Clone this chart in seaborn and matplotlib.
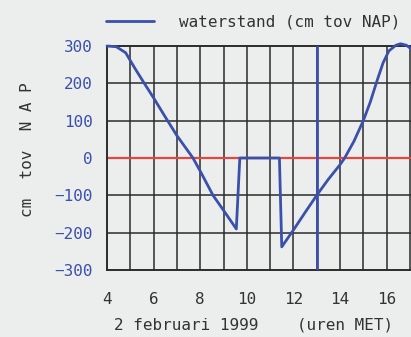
import matplotlib
matplotlib.use("Agg")
import matplotlib.pyplot as plt
import pandas as pd
import seaborn as sns

# water level (cm relative to NAP), 2 Feb 1999, hours MET
hours = [4.0, 4.4, 4.8, 5.2, 5.6, 6.0, 6.5, 7.0, 7.69, 8.0, 8.55, 9.0, 9.55, 9.7,
         11.4, 11.5, 12.0, 12.5, 13.0, 13.5, 14.0, 14.2, 14.6, 15.0, 15.3, 15.6,
         15.85, 16.1, 16.4, 16.6, 16.85, 17.1]
level = [300, 298, 282, 240, 200, 161, 110, 60, 0, -35, -100, -140, -190, 0,
         0, -238, -193, -146, -100, -57, -18, 0, 45, 100, 150, 209,
         255, 287, 302, 306, 302, 290]
now_hour = 13
y_ticks = [-300, -200, -100, 0, 100, 200, 300]
x_ticks = [4, 6, 8, 10, 12, 14, 16]

df = pd.DataFrame({"uur": hours, "waterstand": level})

bg = "#eceeee"
blue = "#3b50aa"
sns.set_style("white")
plt.rcParams["font.family"] = ["DejaVu Sans Mono", "DejaVu Sans"]

fig = plt.figure(figsize=(4.11, 3.37), dpi=100, facecolor=bg)
ax = fig.add_axes([107 / 411, 1 - 270 / 337, 14 * 23.3 / 411, 224 / 337])
ax.set_facecolor(bg)

ax.set_xlim(4, 18)
ax.set_ylim(-300, 300)
for h in range(5, 18):
    ax.axvline(h, color="#2b2b2b", lw=1.1, zorder=1)
for v in range(-200, 300, 100):
    ax.axhline(v, color="#2b2b2b", lw=1.1, zorder=1)
ax.axhline(0, color="#e8453c", lw=1.6, zorder=2)
ax.axvline(now_hour, color=blue, lw=2, zorder=3)

sns.lineplot(data=df, x="uur", y="waterstand", estimator=None, sort=False,
             color=blue, lw=2, ax=ax, zorder=4, label="waterstand (cm tov NAP)")
ax.lines[-1].set_clip_on(False)

for side in ["left", "bottom", "top"]:
    ax.spines[side].set_color("#2b2b2b")
    ax.spines[side].set_linewidth(1.4)
ax.spines["right"].set_visible(False)

ax.set_yticks(y_ticks)
ax.set_xticks(x_ticks)
ax.tick_params(length=0)
ax.tick_params(axis="y", labelcolor=blue, labelsize=11.5, pad=10)
ax.tick_params(axis="x", labelcolor="#333333", labelsize=11.5, pad=16)
ax.set_xlabel("")
ax.set_ylabel("")

fig.text(254 / 411, 1 - 325 / 337, "2 februari 1999    (uren MET)",
         ha="center", va="center", fontsize=11.5, color="#333333")
fig.text(28 / 411, 1 - 150 / 337, "cm  tov  N A P", rotation=90,
         ha="center", va="center", fontsize=11.5, color="#333333")

ax.get_legend().remove()
fig.legend(*ax.get_legend_handles_labels(), loc="center left",
           bbox_to_anchor=(106 / 411, 1 - 22 / 337), frameon=False,
           borderpad=0, borderaxespad=0, handlelength=3.0, handletextpad=1.6,
           fontsize=11.5, labelcolor="#333333")

fig.savefig("out.png", dpi=100, facecolor=bg)
